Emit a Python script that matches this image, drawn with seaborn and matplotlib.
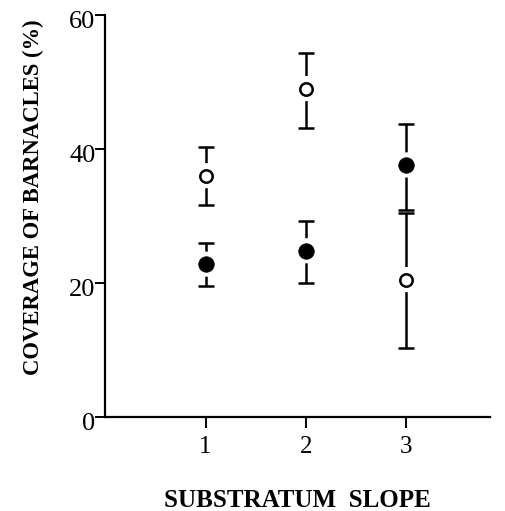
import matplotlib
matplotlib.use("Agg")
import matplotlib.pyplot as plt
import matplotlib.transforms as mtransforms
import seaborn as sns
import pandas as pd

slope = [1, 2, 3]
open_mean = [36.0, 49.0, 20.5]
open_low = [31.6, 43.1, 10.3]
open_high = [40.3, 54.3, 30.4]
filled_mean = [22.8, 24.8, 37.6]
filled_low = [19.5, 20.0, 30.9]
filled_high = [26.0, 29.3, 43.7]
yticks = [0, 20, 40, 60]
xticks = [1, 2, 3]

sns.set_style("white")
plt.rcParams['font.family'] = ['Liberation Serif', 'DejaVu Serif']
plt.rcParams['text.color'] = 'black'
plt.rcParams['axes.labelcolor'] = 'black'

fig = plt.figure(figsize=(5.05, 5.11), dpi=100)
ax = fig.add_axes([0.208, 0.184, 0.762, 0.787])

df_open = pd.DataFrame({"slope": slope, "mean": open_mean, "low": open_low, "high": open_high})
df_fill = pd.DataFrame({"slope": slope, "mean": filled_mean, "low": filled_low, "high": filled_high})

for df in (df_open, df_fill):
    ax.errorbar(df["slope"], df["mean"],
                yerr=[df["mean"] - df["low"], df["high"] - df["mean"]],
                fmt="none", ecolor="black", elinewidth=1.8, capsize=5.5, capthick=1.8, zorder=2)
    sns.scatterplot(data=df, x="slope", y="mean", ax=ax, s=330, color="white",
                    edgecolor="none", zorder=3, legend=False)

sns.scatterplot(data=df_open, x="slope", y="mean", ax=ax, s=80, facecolor="white",
                edgecolor="black", linewidth=1.8, zorder=4, legend=False)
sns.scatterplot(data=df_fill, x="slope", y="mean", ax=ax, s=125, color="black",
                edgecolor="black", linewidth=0.5, zorder=4, legend=False)

ax.set_xlim(0, 3.83)
ax.set_ylim(0, 60)
ax.set_xticks(xticks)
ax.set_xticklabels([str(t) for t in xticks])
ax.set_yticks(yticks)
ax.set_yticklabels([str(t) for t in yticks])

for s in ("top", "right"):
    ax.spines[s].set_visible(False)
for s in ("left", "bottom"):
    ax.spines[s].set_linewidth(1.6)
    ax.spines[s].set_color("black")

ax.tick_params(axis="y", direction="out", length=7, width=1.4, labelsize=19, pad=0,
               colors="black", labelcolor="black")
ax.tick_params(axis="x", direction="out", length=8, width=1.4, labelsize=18, pad=6,
               colors="black", labelcolor="black")
ax.tick_params(left=True, bottom=True)

offset = mtransforms.ScaledTranslation(0, -5 / 100, fig.dpi_scale_trans)
for lab in ax.get_yticklabels():
    lab.set_transform(lab.get_transform() + offset)

ax.set_xlabel("SUBSTRATUM  SLOPE", fontsize=18, fontweight="bold", labelpad=22, color="black")
ax.set_ylabel("COVERAGE OF BARNACLES (%)", fontsize=16.3, fontweight="bold", color="black")
ax.yaxis.set_label_coords(-0.158, 0.547)

fig.savefig("out.png", dpi=100)
